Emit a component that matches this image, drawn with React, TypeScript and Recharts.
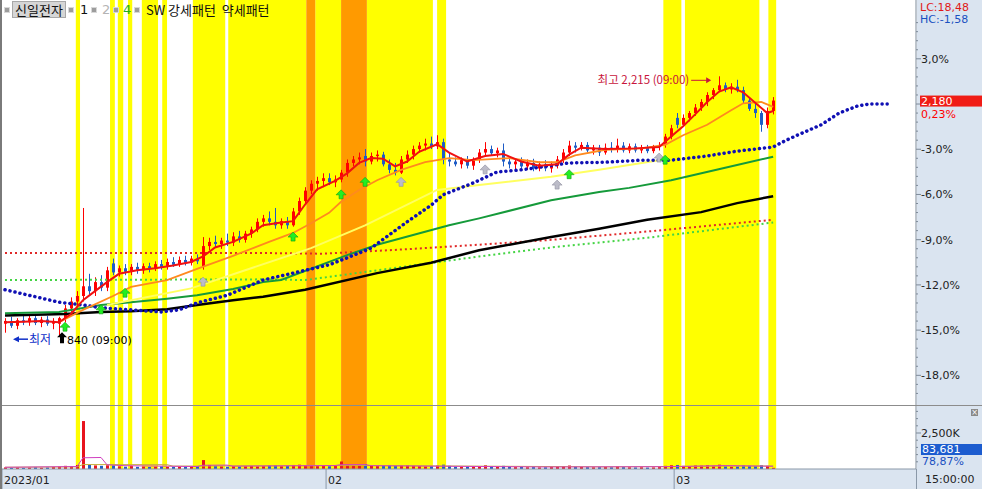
import React from 'react'
import {
  ComposedChart,
  Bar,
  Line,
  Scatter,
  XAxis,
  YAxis,
  ReferenceArea,
  ReferenceDot,
} from 'recharts'

const BASE = 2175
const FONT = '"DejaVu Sans", "Noto Sans CJK KR", sans-serif'
const KFONT = '"Noto Sans CJK KR", "DejaVu Sans", sans-serif'
const PANEL = '#dae4f0'
const X_MAX = 151.8
const P_MIN = 1740.7
const P_MAX = 2325.1
const V_MAX = 4375

const opens = [
  1858, 1862, 1855, 1863, 1860, 1866, 1859, 1864, 1858, 1858,
  1866, 1880, 1890, 1898, 1912, 1905, 1918, 1910, 1945, 1932,
  1938, 1933, 1940, 1935, 1941, 1937, 1944, 1940, 1947, 1943,
  1950, 1946, 1952, 1940, 1970, 1976, 1973, 1978, 1975, 1984,
  1979, 1988, 1994, 2005, 2010, 2005, 2000, 2006, 2000, 2020,
  2035, 2050, 2060, 2064, 2068, 2062, 2066, 2076, 2090, 2095,
  2100, 2092, 2100, 2102, 2088, 2080, 2076, 2095, 2102, 2110,
  2115, 2118, 2114, 2120, 2095, 2092, 2088, 2094, 2086, 2095,
  2105, 2110, 2104, 2108, 2092, 2088, 2092, 2085, 2090, 2082,
  2088, 2082, 2086, 2095, 2105, 2115, 2112, 2116, 2108, 2112,
  2105, 2112, 2109, 2115, 2108, 2114, 2108, 2112, 2107, 2113,
  2116, 2128, 2155, 2145, 2155, 2162, 2170, 2178, 2188, 2195,
  2202, 2196, 2200, 2195, 2180, 2168, 2162, 2145, 2165,
]
const highs = [
  1866, 1868, 1866, 1870, 1872, 1870, 1868, 1869, 1866, 1868,
  1885, 1896, 1905, 2025, 1930, 1925, 1928, 1940, 1952, 1942,
  1944, 1944, 1946, 1945, 1946, 1948, 1950, 1952, 1954, 1955,
  1956, 1956, 1958, 1983, 1982, 1985, 1982, 1988, 1990, 1992,
  1992, 1998, 2010, 2015, 2020, 2025, 2010, 2012, 2025, 2040,
  2055, 2065, 2070, 2075, 2075, 2072, 2080, 2095, 2100, 2105,
  2110, 2105, 2108, 2106, 2095, 2090, 2100, 2108, 2115, 2120,
  2125, 2128, 2130, 2125, 2105, 2098, 2098, 2100, 2098, 2110,
  2120, 2115, 2112, 2118, 2098, 2096, 2098, 2095, 2096, 2092,
  2094, 2092, 2100, 2110, 2122, 2120, 2120, 2120, 2116, 2116,
  2118, 2120, 2125, 2120, 2118, 2118, 2116, 2116, 2116, 2120,
  2132, 2145, 2162, 2160, 2165, 2175, 2182, 2192, 2198, 2215,
  2206, 2205, 2210, 2200, 2185, 2175, 2165, 2170, 2185,
]
const lows = [
  1845, 1852, 1850, 1856, 1855, 1856, 1853, 1855, 1850, 1840,
  1860, 1875, 1882, 1890, 1900, 1898, 1905, 1905, 1928, 1926,
  1928, 1928, 1930, 1930, 1932, 1934, 1936, 1936, 1940, 1940,
  1942, 1942, 1944, 1936, 1964, 1968, 1966, 1970, 1970, 1975,
  1975, 1982, 1990, 1998, 2000, 1995, 1995, 1995, 1998, 2015,
  2030, 2045, 2050, 2055, 2058, 2055, 2062, 2070, 2085, 2088,
  2085, 2088, 2092, 2085, 2075, 2072, 2074, 2090, 2095, 2105,
  2108, 2110, 2110, 2088, 2085, 2085, 2082, 2082, 2080, 2090,
  2100, 2100, 2098, 2085, 2082, 2080, 2082, 2080, 2078, 2078,
  2078, 2076, 2082, 2090, 2100, 2105, 2108, 2105, 2102, 2100,
  2102, 2105, 2105, 2105, 2104, 2105, 2104, 2104, 2104, 2108,
  2112, 2124, 2140, 2142, 2150, 2158, 2165, 2172, 2182, 2192,
  2192, 2190, 2192, 2175, 2165, 2155, 2135, 2140, 2160,
]
const closes = [
  1862, 1855, 1863, 1860, 1866, 1859, 1864, 1858, 1862, 1866,
  1880, 1890, 1898, 1912, 1905, 1918, 1910, 1935, 1932, 1938,
  1933, 1940, 1935, 1941, 1937, 1944, 1940, 1947, 1943, 1950,
  1946, 1952, 1948, 1970, 1976, 1973, 1978, 1975, 1984, 1979,
  1988, 1994, 2005, 2010, 2005, 2000, 2006, 2000, 2020, 2035,
  2050, 2060, 2064, 2068, 2062, 2066, 2076, 2090, 2095, 2098,
  2092, 2100, 2102, 2088, 2080, 2076, 2095, 2102, 2110, 2115,
  2118, 2114, 2120, 2095, 2092, 2088, 2094, 2086, 2095, 2105,
  2110, 2104, 2108, 2092, 2088, 2092, 2085, 2090, 2082, 2088,
  2082, 2086, 2095, 2105, 2115, 2112, 2116, 2108, 2112, 2105,
  2112, 2109, 2115, 2108, 2114, 2108, 2112, 2107, 2113, 2116,
  2128, 2140, 2145, 2155, 2162, 2170, 2178, 2188, 2195, 2202,
  2196, 2200, 2195, 2180, 2168, 2162, 2145, 2165, 2180,
]
// volume in thousands of shares
const volumes = [
  110, 90, 120, 80, 100, 130, 90, 110, 140, 160,
  220, 200, 280, 3330, 300, 250, 220, 260, 240, 180,
  160, 200, 150, 170, 140, 160, 180, 150, 140, 170,
  160, 150, 190, 620, 280, 220, 180, 160, 200, 170,
  190, 210, 180, 200, 240, 260, 190, 220, 280, 300,
  260, 240, 200, 220, 190, 210, 520, 300, 260, 280,
  330, 240, 200, 260, 280, 220, 240, 260, 220, 200,
  180, 200, 240, 300, 220, 160, 150, 170, 160, 200,
  260, 180, 150, 220, 160, 130, 140, 120, 130, 110,
  120, 130, 180, 200, 240, 160, 140, 130, 120, 130,
  150, 120, 180, 130, 120, 110, 120, 100, 110, 130,
  220, 260, 280, 220, 200, 240, 230, 260, 220, 300,
  200, 160, 180, 240, 220, 200, 260, 220, 83.681,
]

// moving averages as [candle index, price]
const ma5 = [
  [0, 1860], [3, 1861], [6, 1862], [9, 1860], [11, 1872], [13, 1892], [15, 1905], [17, 1918],
  [19, 1930], [22, 1935], [25, 1938], [28, 1942], [31, 1947], [33, 1955], [35, 1968], [38, 1976],
  [41, 1988], [43, 2000], [46, 2004], [48, 2006], [50, 2030], [52, 2052], [55, 2064], [57, 2075],
  [59, 2090], [61, 2097], [63, 2096], [65, 2085], [67, 2092], [69, 2106], [72, 2117], [74, 2105],
  [77, 2092], [80, 2100], [83, 2103], [86, 2092], [89, 2086], [92, 2088], [94, 2102], [96, 2112],
  [100, 2110], [105, 2111], [109, 2113], [111, 2128], [113, 2143], [115, 2160], [117, 2178],
  [119, 2193], [121, 2199], [123, 2192], [125, 2177], [127, 2162], [128, 2165],
]
const ma20 = [
  [9, 1860], [13, 1878], [18, 1898], [21, 1911], [27, 1921], [32, 1937], [38, 1956], [44, 1976],
  [48, 1989], [51, 2003], [54, 2018], [56, 2034], [59, 2051], [62, 2065], [66, 2080], [70, 2091],
  [74, 2097], [78, 2094], [84, 2097], [89, 2091], [92, 2091], [95, 2101], [100, 2109], [106, 2111],
  [110, 2116], [113, 2130], [117, 2145], [121, 2166], [123, 2176], [126, 2178], [128, 2171],
]
const ma60 = [
  [0, 1873], [9, 1875], [16, 1885], [21, 1889], [27, 1894], [32, 1899], [38, 1908], [43, 1918],
  [46, 1921], [57, 1957], [62, 1972], [68, 1986], [74, 2000], [79, 2010], [91, 2036], [99, 2048],
  [104, 2054], [111, 2065], [120, 2083], [128, 2099],
]
const ma120 = [
  [0, 1870], [10, 1872], [16, 1875], [21, 1876], [27, 1879], [32, 1885], [38, 1892], [43, 1897],
  [50, 1907], [62, 1931], [71, 1946], [79, 1964], [91, 1983], [99, 1995], [107, 2008], [116, 2019],
  [122, 2032], [128, 2042],
]
const trendLine = [
  [17, 1885], [31, 1909], [51, 1967], [60, 2000], [72, 2051], [79, 2058], [91, 2070], [99, 2080], [109, 2094],
]
const leadLine = [
  [0, 1907], [5, 1897], [9, 1889], [13, 1885], [16, 1881], [21, 1878], [26, 1875], [29, 1878],
  [32, 1888], [37, 1899], [43, 1921], [49, 1933], [54, 1943], [57, 1953], [61, 1967], [64, 1986],
  [67, 2005], [71, 2029], [73, 2044], [78, 2061], [82, 2077], [86, 2080], [94, 2090], [100, 2091],
  [106, 2094], [111, 2094], [117, 2100], [122, 2107], [128, 2113], [130, 2122], [132, 2130],
  [136, 2145], [139, 2162], [142, 2172], [144, 2175], [147, 2175],
]
const upperEnv = [[0, 1960], [43, 1960], [53, 1959], [66, 1965], [79, 1972], [91, 1979], [107, 1991], [128, 2008]]
const lowerEnv = [[0, 1921], [43, 1922], [50, 1921], [62, 1935], [79, 1955], [91, 1968], [107, 1982], [128, 2004]]
const volMa5 = [
  [0, 120], [12, 170], [13, 780], [16, 800], [17, 290], [20, 230], [32, 170], [33, 260], [37, 270],
  [38, 200], [55, 240], [56, 300], [60, 310], [61, 230], [90, 140], [110, 160], [120, 240], [128, 190],
]
const volMa20 = [[0, 120], [12, 150], [13, 310], [27, 300], [28, 200], [60, 240], [100, 150], [128, 210]]

// pattern signals [candle index, price level of marker]
const bullSignals = [[10, 1853], [16, 1878], [20, 1902], [48, 1983], [56, 2044], [60, 2062], [94, 2073], [110, 2094]]
const plainSignals = [[33, 1918], [66, 2062], [80, 2080], [92, 2058], [109, 2097]]

// background pattern zones [from, to] in candle index units
const weakZones = [
  [11.8, 12.5], [17.5, 18.3], [18.8, 19.7], [20.5, 21.2], [22.8, 25.5], [26.2, 27], [31.3, 36.7],
  [37.2, 50.2], [51.7, 56], [60.3, 71.3], [72, 73.5], [109.7, 112.7], [113.3, 125.7], [127.2, 128.5],
]
const strongZones = [[50.2, 51.7], [56, 60.3]]

const months = [
  { label: '2023/01', at: -0.5 },
  { label: '02', at: 53.5 },
  { label: '03', at: 111.5 },
]

const candles = opens.map((o, i) => ({
  i,
  open: o,
  high: highs[i],
  low: lows[i],
  close: closes[i],
  range: [lows[i], highs[i]],
  vol: volumes[i],
  up: closes[i] >= o,
}))

const lastIdx = closes.length - 1
const lastClose = closes[lastIdx]
const maxHigh = Math.max(...highs)
const minLow = Math.min(...lows)
const hiIdx = highs.indexOf(maxHigh)
const loIdx = lows.indexOf(minLow)
const pct = (v: number) => v.toFixed(2).replace('.', ',')

const pts = (a: number[][]) => a.map(([i, v]) => ({ i, v }))

const priceTicks: number[] = []
for (let k = -32; k <= 9; k++) priceTicks.push(BASE * (1 + (k * 0.6) / 100))
priceTicks.push(lastClose)

const volTicks = [500, 1000, 1500, 2000, 2500, 3000, 3500, 4000]

const UP = '#ff0000'
const DOWN = '#1e5cc6'

function Candle(props: any) {
  const { x, y, width, height, payload } = props
  if (!payload || payload.high == null) return null
  const top = Math.min(y, y + height)
  const h = Math.abs(height)
  const span = payload.high - payload.low || 1
  const yOf = (v: number) => top + ((payload.high - v) / span) * h
  const cx = Math.round(x + width / 2)
  const color = payload.up ? UP : DOWN
  const bTop = yOf(Math.max(payload.open, payload.close))
  const bBot = yOf(Math.min(payload.open, payload.close))
  return (
    <g>
      <line x1={cx + 0.5} x2={cx + 0.5} y1={top} y2={top + h} stroke={color} strokeWidth={1} />
      <rect x={cx - 1} y={bTop} width={3} height={Math.max(1.5, bBot - bTop)} fill={color} />
    </g>
  )
}

function VolBar(props: any) {
  const { x, y, width, height, payload } = props
  if (!payload) return null
  const cx = Math.round(x + width / 2)
  return <rect x={cx - 1} y={y} width={3} height={Math.max(1, height)} fill={payload.up ? '#e8141e' : DOWN} />
}

const arrow = (color: string, edge: string) => (props: any) => {
  const { cx, cy } = props
  const d = `M${cx},${cy - 5} L${cx + 5},${cy} L${cx + 2},${cy} L${cx + 2},${cy + 4} L${cx - 2},${cy + 4} L${cx - 2},${cy} L${cx - 5},${cy} Z`
  return <path d={d} fill={color} stroke={edge} strokeWidth={0.6} />
}

function PriceTick(props: any) {
  const { x, y, payload } = props
  const v = payload.value
  if (v === lastClose) {
    return (
      <g fontFamily={FONT} fontSize={11}>
        <rect x={x + 4} y={y - 5} width={62} height={11} fill="#f01c16" />
        <text x={x + 5} y={y + 4.5} fill="#fff">{v.toLocaleString('en-US')}</text>
        <text x={x + 5} y={y + 17} fill="#ff0000">{pct((v / BASE - 1) * 100)}%</text>
      </g>
    )
  }
  const p = (v / BASE - 1) * 100
  const k = Math.round(p / 0.6)
  const major = k % 5 === 0
  return (
    <g>
      <line x1={x} x2={x + (major ? 5 : 2)} y1={y} y2={y} stroke="#7d8a99" />
      {major && k !== 0 && (
        <text x={x + 5} y={y + 4} fontFamily={FONT} fontSize={11} fill="#222">
          {(k * 0.6).toFixed(1).replace('.', ',')}%
        </text>
      )}
    </g>
  )
}

function VolTick(props: any) {
  const { x, y, payload } = props
  const major = payload.value === 2500
  return (
    <g>
      <line x1={x} x2={x + (major ? 5 : 2)} y1={y} y2={y} stroke="#7d8a99" />
      {major && (
        <text x={x + 5} y={y + 4} fontFamily={FONT} fontSize={11} fill="#222">
          {payload.value.toLocaleString('en-US')}K
        </text>
      )}
    </g>
  )
}

function MonthTick(props: any) {
  const { x, y, payload } = props
  const m = months.find((mm) => mm.at === payload.value)
  return (
    <g>
      <line x1={x} x2={x} y1={y} y2={y + 20} stroke="#8a98a8" />
      <text x={x + 2} y={y + 15} fontFamily={FONT} fontSize={11} fill="#222">
        {m ? m.label : ''}
      </text>
    </g>
  )
}

function HighNote(props: any) {
  const { cx, cy } = props
  return (
    <g fill="#c8143c" stroke="#c8143c">
      <text x={cx - 30} y={cy + 8} textAnchor="end" fontFamily={KFONT} fontSize={11.5} stroke="none">
        최고 {maxHigh.toLocaleString('en-US')} (09:00)
      </text>
      <line x1={cx - 28} x2={cx - 12} y1={cy + 4} y2={cy + 4} strokeWidth={1} />
      <path d={`M${cx - 8},${cy + 4} L${cx - 13},${cy + 1} L${cx - 13},${cy + 7} Z`} stroke="none" />
    </g>
  )
}

function LowNote(props: any) {
  const { cx, cy } = props
  return (
    <g>
      <path d={`M${cx - 46},${cy + 3} L${cx - 40},${cy} L${cx - 40},${cy + 6} Z`} fill="#1030c8" />
      <line x1={cx - 40} x2={cx - 31} y1={cy + 3} y2={cy + 3} stroke="#1030c8" strokeWidth={1.5} />
      <text x={cx - 30} y={cy + 8} fontFamily={KFONT} fontSize={12} fill="#1030c8">최저</text>
      <path
        d={`M${cx + 3},${cy - 4} L${cx + 8},${cy + 1} L${cx + 5},${cy + 1} L${cx + 5},${cy + 7} L${cx + 1},${cy + 7} L${cx + 1},${cy + 1} L${cx - 2},${cy + 1} Z`}
        fill="#000"
      />
      <text x={cx + 8} y={cy + 8} fontFamily={FONT} fontSize={11} fill="#000">
        840 (09:00)
      </text>
    </g>
  )
}

function Zones({ height, bottom }: { height: number; bottom: number }) {
  return (
    <ComposedChart width={982} height={height} data={candles} margin={{ top: 0, right: 66, bottom, left: 2 }}>
      <XAxis type="number" dataKey="i" domain={[-0.5, X_MAX]} hide allowDataOverflow />
      <YAxis hide type="number" domain={[P_MIN, P_MAX]} allowDataOverflow />
      {weakZones.map(([a, b], k) => (
        <ReferenceArea key={'w' + k} x1={a} x2={b} ifOverflow="visible" fill="#ffff00" fillOpacity={1} stroke="none" />
      ))}
      {strongZones.map(([a, b], k) => (
        <ReferenceArea key={'s' + k} x1={a} x2={b} ifOverflow="visible" fill="#ff9a00" fillOpacity={1} stroke="none" />
      ))}
      <Line dataKey="close" stroke="none" dot={false} activeDot={false} isAnimationActive={false} />
    </ComposedChart>
  )
}

const abs = (left: number, top: number): React.CSSProperties => ({ position: 'absolute', left, top })

export default function App() {
  const sq = (left: number) => (
    <div style={{ ...abs(left, 7), width: 4, height: 4, background: '#9c9c9c', border: '1px solid #d8d8d8' }} />
  )
  return (
    <div style={{ position: 'absolute', left: 0, top: 0, width: 982, height: 489, background: '#fff', overflow: 'hidden', fontFamily: FONT }}>
      <div style={{ ...abs(917, 0), width: 65, height: 489, background: PANEL }} />
      <div style={{ ...abs(0, 469), width: 982, height: 20, background: PANEL }} />

      <div style={abs(0, 0)}>
        <Zones height={405} bottom={0} />
      </div>
      <div style={abs(0, 406)}>
        <Zones height={83} bottom={20} />
      </div>

      <div style={abs(0, 0)}>
        <ComposedChart width={982} height={405} data={candles} margin={{ top: 0, right: 0, bottom: 0, left: 2 }}>
          <XAxis type="number" dataKey="i" domain={[-0.5, X_MAX]} hide allowDataOverflow />
          <YAxis
            orientation="right"
            width={66}
            type="number"
            domain={[P_MIN, P_MAX]}
            allowDataOverflow
            ticks={priceTicks}
            interval={0}
            tick={<PriceTick />}
            tickLine={false}
            tickSize={0}
            tickMargin={0}
            axisLine={{ stroke: '#7d8a99' }}
          />
          <Line data={pts(upperEnv)} dataKey="v" stroke="#e02828" strokeWidth={2} strokeDasharray="2 3" dot={false} isAnimationActive={false} />
          <Line data={pts(lowerEnv)} dataKey="v" stroke="#44d444" strokeWidth={2} strokeDasharray="2 3" dot={false} isAnimationActive={false} />
          <Line data={pts(ma120)} dataKey="v" stroke="#000" strokeWidth={2.5} dot={false} isAnimationActive={false} />
          <Line data={pts(ma60)} dataKey="v" stroke="#159a3a" strokeWidth={2} dot={false} isAnimationActive={false} />
          <Line data={pts(trendLine)} dataKey="v" stroke="#ffff60" strokeWidth={2} dot={false} isAnimationActive={false} />
          <Line data={pts(leadLine)} dataKey="v" stroke="#1010b4" strokeWidth={3.5} strokeDasharray="0.1 5" strokeLinecap="round" dot={false} isAnimationActive={false} />
          <Line data={pts(ma20)} dataKey="v" stroke="#ff8a1e" strokeWidth={1.8} dot={false} isAnimationActive={false} />
          <Line data={pts(ma5)} dataKey="v" stroke="#f01010" strokeWidth={2} dot={false} isAnimationActive={false} />
          <Bar dataKey="range" barSize={4} shape={<Candle />} isAnimationActive={false} />
          <Scatter data={pts(plainSignals)} dataKey="v" shape={arrow('#bcbcc8', '#9090a0')} isAnimationActive={false} />
          <Scatter data={pts(bullSignals)} dataKey="v" shape={arrow('#22ee22', '#10a010')} isAnimationActive={false} />
          <ReferenceDot x={hiIdx} y={maxHigh} r={0} shape={<HighNote />} />
          <ReferenceDot x={loIdx} y={minLow} r={0} shape={<LowNote />} />
        </ComposedChart>
      </div>

      <div style={{ ...abs(2, 405), width: 980, height: 1, background: '#8c8c8c' }} />

      <div style={abs(0, 406)}>
        <ComposedChart width={982} height={83} data={candles} margin={{ top: 0, right: 0, bottom: 0, left: 2 }}>
          <XAxis
            type="number"
            dataKey="i"
            domain={[-0.5, X_MAX]}
            allowDataOverflow
            ticks={months.map((m) => m.at)}
            interval={0}
            height={20}
            tick={<MonthTick />}
            tickLine={false}
            tickSize={0}
            tickMargin={0}
            axisLine={{ stroke: '#8a98a8' }}
          />
          <YAxis
            orientation="right"
            width={66}
            type="number"
            domain={[0, V_MAX]}
            allowDataOverflow
            ticks={volTicks}
            interval={0}
            tick={<VolTick />}
            tickLine={false}
            tickSize={0}
            tickMargin={0}
            axisLine={{ stroke: '#7d8a99' }}
          />
          <Bar dataKey="vol" barSize={4} shape={<VolBar />} isAnimationActive={false} />
          <Line data={pts(volMa20)} dataKey="v" stroke="#c8b040" strokeWidth={1} dot={false} isAnimationActive={false} />
          <Line data={pts(volMa5)} dataKey="v" stroke="#d040c0" strokeWidth={1} dot={false} isAnimationActive={false} />
        </ComposedChart>
      </div>

      <div style={{ ...abs(0, 0), width: 2, height: 489, background: '#7a7a7a' }} />
      <div style={{ ...abs(916, 469), width: 1, height: 20, background: '#8a98a8' }} />

      {/* legend row */}
      {sq(4)}
      <div style={{ ...abs(12, 1), height: 15, padding: '0 2px', background: '#d6d6d6', border: '1px solid #a8a8a8', fontFamily: KFONT, fontSize: 13, lineHeight: '15px', color: '#111' }}>
        신일전자
      </div>
      {sq(68)}
      <div style={{ ...abs(80, 1), fontSize: 13, lineHeight: '17px', color: '#111' }}>1</div>
      {sq(91)}
      <div style={{ ...abs(102, 1), fontSize: 13, lineHeight: '17px', color: '#b4b4b4' }}>2</div>
      {sq(113)}
      <div style={{ ...abs(123, 1), fontSize: 13, lineHeight: '17px', color: '#22b022' }}>4</div>
      {sq(134)}
      <div style={{ ...abs(146, 1), fontFamily: KFONT, fontSize: 13, lineHeight: '17px', color: '#111', whiteSpace: 'nowrap' }}>
        SW 강세패턴&nbsp;&nbsp;약세패턴
      </div>

      {/* right panel texts */}
      <div style={{ ...abs(920, 2), fontSize: 11, lineHeight: '11px', color: '#e01818' }}>
        LC:{pct((lastClose / minLow - 1) * 100)}
      </div>
      <div style={{ ...abs(920, 14), fontSize: 11, lineHeight: '11px', color: '#1a50c0' }}>
        HC:{pct((lastClose / maxHigh - 1) * 100)}
      </div>
      <div style={{ ...abs(971, 409), width: 7, height: 7, background: '#8a8a8a', color: '#fff', fontSize: 8, lineHeight: '7px', textAlign: 'center' }}>×</div>
      <div style={{ ...abs(921, 444), width: 61, height: 11, background: '#1c5ccf', color: '#fff', fontSize: 11, lineHeight: '11px', paddingLeft: 1 }}>
        {Math.round(volumes[lastIdx] * 1000).toLocaleString('en-US')}
      </div>
      <div style={{ ...abs(922, 456), fontSize: 11, lineHeight: '11px', color: '#1a50c0' }}>78,87%</div>
      <div style={{ ...abs(925, 473), fontSize: 11, lineHeight: '13px', color: '#222' }}>15:00:00</div>
    </div>
  )
}
